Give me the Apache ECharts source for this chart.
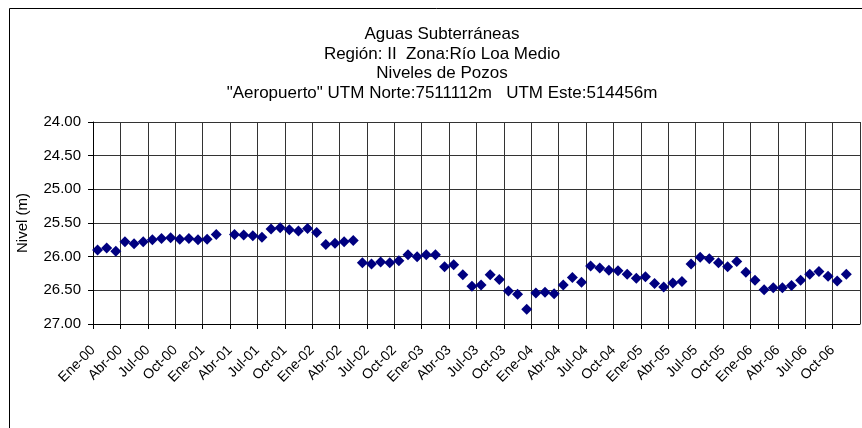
<!DOCTYPE html>
<html>
<head>
<meta charset="utf-8">
<title>index</title>
<style>
    html, body { margin: 0; padding: 0; background: #fff; }
    #container { width: 862px; height: 428px; }
</style>
</head>
<body>
<div id="container"></div>
<script src="https://cdn.jsdelivr.net/npm/echarts@6/dist/echarts.min.js"></script>
<script type="text/javascript">
    // meses y años del eje X
    var monthNames = ["Ene", "Feb", "Mar", "Abr", "May", "Jun", "Jul", "Ago", "Sep", "Oct", "Nov", "Dic"];
    var years = ["00", "01", "02", "03", "04", "05", "06"];

    // nivel (m), un valor por mes desde Ene-00 hasta Dic-06 (null = sin medición)
    var nivel = [
        25.90, 25.87, 25.92, 25.78, 25.81, 25.78, 25.75, 25.73, 25.72, 25.74, 25.73, 25.75,
        25.74, 25.67, null, 25.67, 25.68, 25.69, 25.71, 25.59, 25.57, 25.60, 25.62, 25.58,
        25.64, 25.82, 25.80, 25.78, 25.76, 26.09, 26.11, 26.08, 26.09, 26.06, 25.97, 26.00,
        25.97, 25.97, 26.15, 26.12, 26.27, 26.44, 26.42, 26.27, 26.34, 26.51, 26.56, 26.78,
        26.54, 26.53, 26.55, 26.42, 26.31, 26.38, 26.14, 26.17, 26.20, 26.21, 26.26, 26.32,
        26.30, 26.40, 26.45, 26.39, 26.37, 26.11, 26.01, 26.03, 26.09, 26.15, 26.07, 26.23,
        26.35, 26.49, 26.46, 26.46, 26.43, 26.35, 26.26, 26.22, 26.29, 26.36, 26.26, null
    ];

    var titleLines = [
        "Aguas Subterráneas",
        "Región: II  Zona:Río Loa Medio",
        "Niveles de Pozos",
        "\"Aeropuerto\" UTM Norte:7511112m   UTM Este:514456m"
    ];

    var months = [];
    years.forEach(function (y) {
        monthNames.forEach(function (m) {
            months.push(m + "-" + y);
        });
    });

    // cada punto va en el centro de su mes
    var points = [];
    nivel.forEach(function (v, i) {
        if (v !== null) points.push([i + 0.5, v]);
    });

    var font = "'Liberation Sans', Arial, sans-serif";
    var gridColor = "#333";

    var myChart = echarts.init(document.getElementById("container"));
    var option = {
        backgroundColor: "#fff",
        animation: false,
        textStyle: { fontFamily: font },
        title: {
            text: titleLines.join("\n"),
            left: 437,
            top: 20,
            textAlign: "center",
            textStyle: {
                fontFamily: font,
                fontSize: 17,
                fontWeight: "normal",
                color: "#000",
                lineHeight: 19.5
            }
        },
        graphic: [{
            type: "rect",
            shape: { x: 9.5, y: 8.5, width: 900, height: 500 },
            style: { fill: null, stroke: "#000", lineWidth: 1 },
            silent: true
        }],
        grid: {
            left: 93,
            right: 2,
            top: 122,
            bottom: 104
        },
        xAxis: {
            type: "value",
            min: 0,
            max: months.length,
            interval: 3,
            axisLine: { show: true, onZero: false, lineStyle: { color: "#000", width: 1 } },
            axisTick: { show: true, length: 5, lineStyle: { color: "#000" } },
            splitLine: { show: true, lineStyle: { color: gridColor, width: 1 } },
            axisLabel: {
                rotate: 45,
                margin: 24,
                fontSize: 14,
                color: "#000",
                fontFamily: font,
                showMaxLabel: false,
                formatter: function (v) {
                    return months[v] || "";
                }
            }
        },
        yAxis: {
            type: "value",
            inverse: true,
            min: 24,
            max: 27,
            interval: 0.5,
            name: "Nivel (m)",
            nameLocation: "middle",
            nameGap: 63,
            nameTextStyle: { fontSize: 15, color: "#000", fontFamily: font },
            axisLine: { show: true, lineStyle: { color: "#000", width: 1 } },
            axisTick: { show: true, length: 5, lineStyle: { color: "#000" } },
            splitLine: { show: true, lineStyle: { color: gridColor, width: 1 } },
            axisLabel: {
                margin: 12,
                fontSize: 15,
                color: "#000",
                fontFamily: font,
                formatter: function (v) { return v.toFixed(2); }
            }
        },
        series: [{
            type: "scatter",
            data: points,
            symbol: "diamond",
            symbolSize: [11, 11],
            itemStyle: { color: "#000080", opacity: 1 }
        }]
    };
    myChart.setOption(option);
</script>
</body>
</html>
